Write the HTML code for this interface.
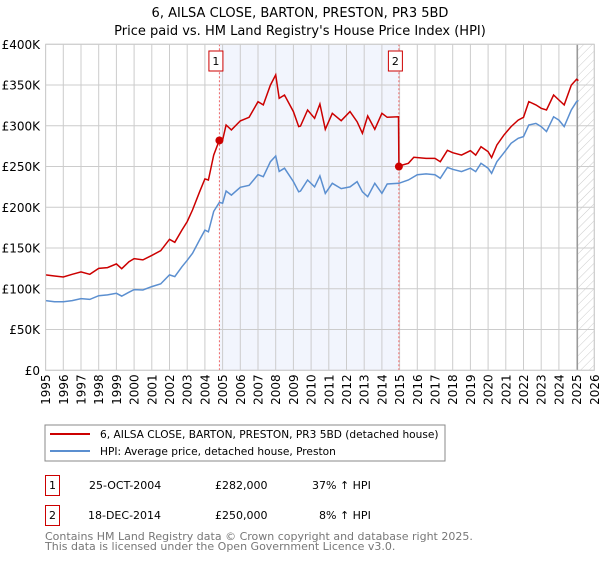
<!DOCTYPE html>
<html><head><meta charset="utf-8"><style>
body{margin:0;background:#fff;font-family:"Liberation Sans","DejaVu Sans",sans-serif}
svg text{font-family:"DejaVu Sans","Liberation Sans",sans-serif}
</style></head><body>
<svg id="c" width="600" height="560">
<defs><pattern id="hatch" width="6" height="6" patternUnits="userSpaceOnUse" patternTransform="rotate(45)"><line x1="0" y1="0" x2="0" y2="6" stroke="#ccc" stroke-width="1"/></pattern></defs>
<text x="300" y="17" text-anchor="middle" font-size="13">6, AILSA CLOSE, BARTON, PRESTON, PR3 5BD</text>
<text x="300" y="35" text-anchor="middle" font-size="13">Price paid vs. HM Land Registry's House Price Index (HPI)</text>
<g id="plot"></g>
<rect x="45" y="425" width="400" height="36" fill="#fff" stroke="#888"/>
<line x1="50" y1="434" x2="90" y2="434" stroke="#cc0000" stroke-width="2"/>
<text x="100" y="438" font-size="10.6">6, AILSA CLOSE, BARTON, PRESTON, PR3 5BD (detached house)</text>
<line x1="50" y1="451" x2="90" y2="451" stroke="#5b8fd0" stroke-width="2"/>
<text x="100" y="455" font-size="10.6">HPI: Average price, detached house, Preston</text>
<g font-size="11">
<rect x="45.5" y="475.5" width="14" height="20" fill="#fff" stroke="#cc0000"/><text x="52.5" y="489" text-anchor="middle">1</text>
<text x="89" y="489">25-OCT-2004</text><text x="215" y="489">£282,000</text><text x="312" y="489">37% ↑ HPI</text>
<rect x="45.5" y="505.5" width="14" height="20" fill="#fff" stroke="#cc0000"/><text x="52.5" y="519" text-anchor="middle">2</text>
<text x="88" y="519">18-DEC-2014</text><text x="215" y="519">£250,000</text><text x="319" y="519">8% ↑ HPI</text>
</g>
<text x="45" y="540" font-size="11" fill="#777">Contains HM Land Registry data © Crown copyright and database right 2025.</text>
<text x="45" y="550" font-size="11" fill="#777">This data is licensed under the Open Government Licence v3.0.</text>
</svg>
<script>
const yTicks=[0,50,100,150,200,250,300,350,400];
const yTickLabels=["£0","£50K","£100K","£150K","£200K","£250K","£300K","£350K","£400K"];
const xYears=[1995,1996,1997,1998,1999,2000,2001,2002,2003,2004,2005,2006,2007,2008,2009,2010,2011,2012,2013,2014,2015,2016,2017,2018,2019,2020,2021,2022,2023,2024,2025,2026];
const hpiT=[1995,1995.5,1996,1996.5,1997,1997.5,1998,1998.5,1999,1999.3,1999.7,2000,2000.5,2001,2001.5,2002,2002.3,2002.7,2003,2003.3,2003.7,2004,2004.2,2004.5,2004.82,2005,2005.2,2005.5,2006,2006.5,2007,2007.3,2007.7,2008,2008.2,2008.5,2009,2009.3,2009.4,2009.8,2010.2,2010.5,2010.8,2011.2,2011.7,2012.2,2012.6,2012.9,2013.2,2013.6,2014,2014.3,2014.96,2015.5,2016,2016.5,2017,2017.3,2017.7,2018,2018.5,2019,2019.3,2019.6,2020,2020.2,2020.5,2020.9,2021.3,2021.7,2022,2022.3,2022.7,2023,2023.3,2023.7,2024,2024.3,2024.7,2025,2025.1];
const hpiV=[85.5,84,84,85.5,88,87,91.5,92.5,94.5,91,95.7,99,98.5,102.7,106,117,115,127,135,143.5,160,172,170,195,206,205,220,215,224.5,227,240,237.6,256,263,244,248,231.5,219,220,233.5,225,238.5,217,229.5,223,225,231.5,219,213,229.5,217,228.6,229.5,233.5,240,241,240,235.6,249,246.6,243.8,248,243.8,254,248,241.7,256,267,278.5,284.7,286.7,301,303,299,293,311,307,299,319.4,329.7,331];
const priceT=[1995,1995.5,1996,1996.5,1997,1997.5,1998,1998.5,1999,1999.3,1999.7,2000,2000.5,2001,2001.5,2002,2002.3,2002.7,2003,2003.3,2003.7,2004,2004.2,2004.5,2004.82,2005,2005.2,2005.5,2006,2006.5,2007,2007.3,2007.7,2008,2008.2,2008.5,2009,2009.3,2009.4,2009.8,2010.2,2010.5,2010.8,2011.2,2011.7,2012.2,2012.6,2012.9,2013.2,2013.6,2014,2014.3,2014.94,2014.96,2015.5,2015.8,2016.5,2017,2017.3,2017.7,2018,2018.5,2019,2019.3,2019.6,2020,2020.2,2020.5,2020.9,2021.3,2021.7,2022,2022.3,2022.7,2023,2023.3,2023.7,2024,2024.3,2024.7,2025,2025.1];
const priceV=[117,115.7,114.5,117.8,120.7,117.8,125,126,130.5,124.7,133,137,135.4,141,146.8,160.7,157,172,182.4,196.7,219,234.8,233.5,264,282.6,282.6,301,295,306,310.4,329.6,325.6,350,362.4,333.7,337.8,317.4,299,299.8,319.4,309.2,326.8,295.7,315.3,306.3,317.4,305,290.8,312,295.7,315.3,310.4,311,250.7,254,261.3,260,260,256,270,267,264,269.5,264,274.4,268.3,261,276.5,288.8,299,307,310.4,329.7,325.6,321.5,319.4,337.8,331.7,325.6,350,357,355.4];
const saleT=[2004.82,2014.96];
const saleV=[282,250];
const saleLabels=["1","2"];
const X0=45.6,X1=594.3,Y0=370.3,Y1=44.3;
const xs=t=>X0+(t-1995)/31*(X1-X0);
const ys=v=>Y0-(v/400)*(Y0-Y1);
const NS="http://www.w3.org/2000/svg";
const g=document.getElementById('plot');
function mk(tag,attrs,parent){const e=document.createElementNS(NS,tag);for(const k in attrs)e.setAttribute(k,attrs[k]);(parent||g).appendChild(e);return e;}
let e;
e=mk('rect',{x:xs(saleT[0]),y:Y1,width:xs(saleT[1])-xs(saleT[0]),height:Y0-Y1,fill:'#eef2fc',opacity:0.75});


e=mk('rect',{x:xs(2025.05),y:Y1,width:X1-xs(2025.05),height:Y0-Y1,fill:'url(#hatch)'});


yTicks.forEach((v,i)=>{
 e=mk('line',{x1:X0,x2:X1,y1:ys(v),y2:ys(v),stroke:'#ccc','stroke-width':1});
 
 
 e=mk('text',{x:40,y:ys(v)+4.5,'text-anchor':'end','font-size':12});
 e.textContent=yTickLabels[i];
 
 
});
xYears.forEach(yr=>{
 e=mk('line',{x1:xs(yr),x2:xs(yr),y1:Y1,y2:Y0,stroke:'#ccc','stroke-width':1});
 
 
 const tx=xs(yr)+4.5,ty=Y0+4;
 e=mk('text',{x:tx,y:ty,'text-anchor':'end','font-size':12,transform:`rotate(-90 ${tx} ${ty})`});
 e.textContent=yr;
 
 
});
e=mk('line',{x1:xs(2025.05),x2:xs(2025.05),y1:Y1,y2:Y0,stroke:'#999','stroke-width':1.2});


saleT.forEach((t,i)=>{
 e=mk('line',{x1:xs(t),x2:xs(t),y1:Y1,y2:Y0,stroke:'#ee6666','stroke-width':1,'stroke-dasharray':'2,2'});
 
 
 e=mk('rect',{x:xs(t)-10.5,y:51,width:14,height:20,fill:'#fff',stroke:'#cc0000'});
 
 
 e=mk('text',{x:xs(t)-3.5,y:65,'text-anchor':'middle','font-size':11});
 e.textContent=saleLabels[i];
 
 
});
e=mk('path',{d:hpiT.map((t,i)=>(i?'L':'M')+xs(t).toFixed(1)+' '+ys(hpiV[i]).toFixed(1)).join(''),fill:'none',stroke:'#5b8fd0','stroke-width':1.5});


e=mk('path',{d:priceT.map((t,i)=>(i?'L':'M')+xs(t).toFixed(1)+' '+ys(priceV[i]).toFixed(1)).join(''),fill:'none',stroke:'#cc0000','stroke-width':1.5});


saleT.forEach((t,i)=>{
 e=mk('circle',{cx:xs(t),cy:ys(saleV[i]),r:4,fill:'#cc0000'});
 
 
});
e=mk('rect',{x:X0,y:Y1,width:X1-X0,height:Y0-Y1,fill:'none',stroke:'#ccc'});


</script>
</body></html>
